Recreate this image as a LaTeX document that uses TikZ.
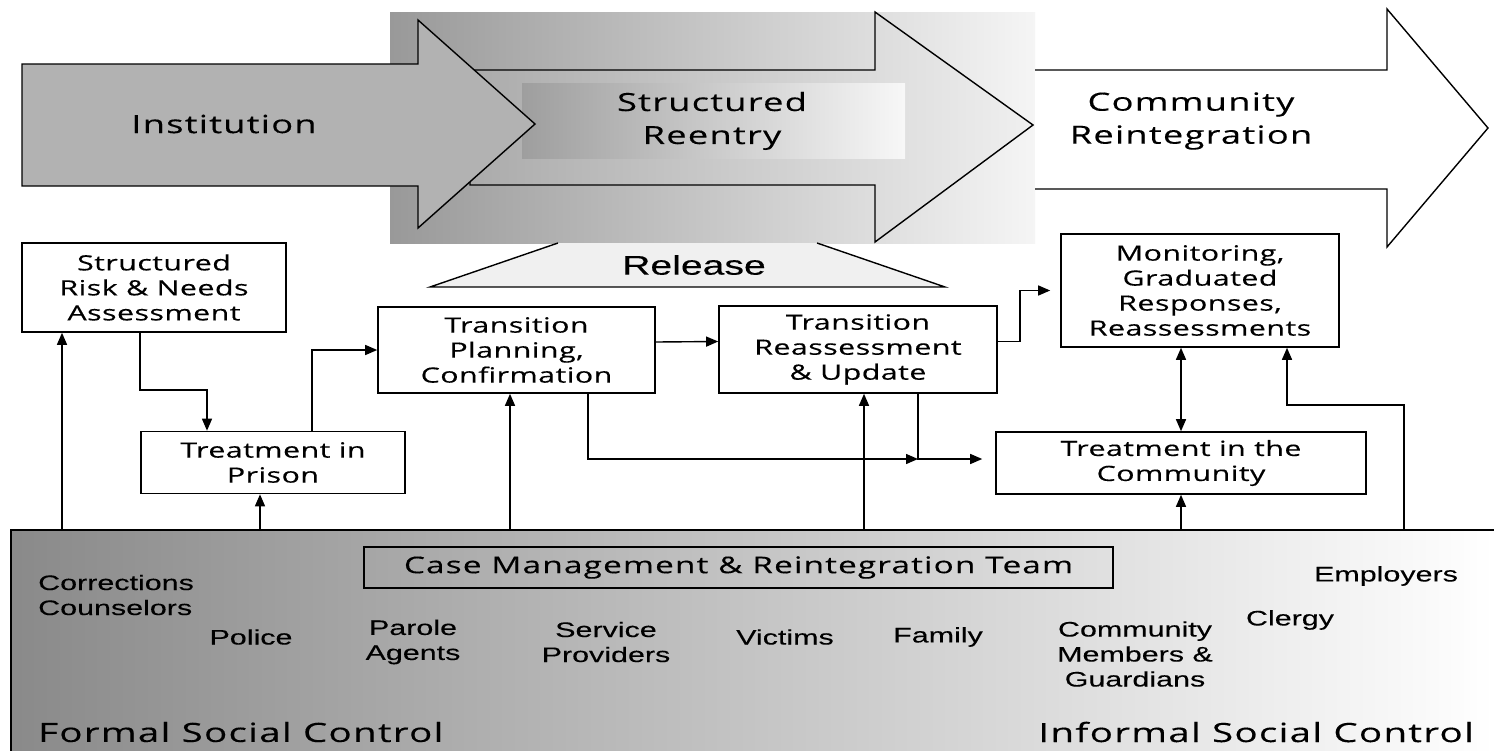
\documentclass[tikz,border=0pt]{standalone}
\usepackage{fontspec}
\setmainfont{Open Sans}
\newfontfamily\bxfont[FakeStretch=1.45,LetterSpace=2,FakeBold=0.3]{Open Sans}
\newfontfamily\bigfont[FakeStretch=1.45,LetterSpace=5,FakeBold=0.3]{Open Sans}
\newfontfamily\arial[FakeStretch=1.45,FakeBold=0.2]{Liberation Sans}
\usetikzlibrary{arrows.meta}
\begin{document}
\begin{tikzpicture}[x=1pt,y=-1pt,
  box/.style={draw, line width=1.6pt, fill=white, inner sep=0pt, align=center,
    font=\bxfont\fontsize{21}{25}\selectfont},
  arr/.style={line width=1.4pt, -{Triangle[length=12pt,width=10pt]}},
  darr/.style={line width=1.4pt, {Triangle[length=12pt,width=10pt]}-{Triangle[length=12pt,width=10pt]}},
  lbl/.style={font=\arial\fontsize{21}{25}\selectfont, align=center, inner sep=0pt},
  big/.style={font=\bigfont\fontsize{25}{33}\selectfont, align=center, inner sep=0pt},
  outline/.style={draw, line width=1.4pt, line join=miter}]
\useasboundingbox (0,0) rectangle (1494,750);
\fill[white] (0,0) rectangle (1494,750);

% background of structured reentry
\fill[left color=black!40, right color=black!4] (390,12) rectangle (1035,243);
% structured reentry arrow
\draw[outline, left color=black!33, right color=black!6]
  (470,70) -- (875,70) -- (875,12) -- (1033,125) -- (875,242) -- (875,185) -- (470,185) -- cycle;
\fill[left color=black!38, right color=black!3] (522,83) rectangle (905,158);
% institution arrow
\draw[outline, fill=black!30]
  (22,64) -- (418,64) -- (418,20) -- (535,124) -- (418,228) -- (418,186) -- (22,186) -- cycle;
% community reintegration arrow
\fill[white] (1035,70) -- (1387,70) -- (1387,9) -- (1488,128) -- (1387,247) -- (1387,189) -- (1035,189) -- cycle;
\draw[outline] (1035,70) -- (1387,70) -- (1387,9) -- (1488,128) -- (1387,247) -- (1387,189) -- (1035,189);

\node[big] (inst) at (224,124) {Institution};
\node[big] (sre) at (712,121) {Structured\\Reentry};
\node[big] (cre) at (1191,121) {Community\\Reintegration};

% release
\fill[black!6] (558,243) -- (430,287) -- (945,287) -- (817,243) -- cycle;
\draw[line width=1.4pt] (558,243) -- (430,287) -- (945,287) -- (817,243);
\node[font=\arial\fontsize{27}{30}\selectfont, inner sep=0pt] (rel) at (694,265) {Release};

% bottom panel
\node[draw, line width=1.6pt, left color=black!46, right color=white, minimum width=1484pt,
  minimum height=222pt, inner sep=0pt] (panel) at (753,641) {};
\node[draw, line width=1.6pt, minimum width=749pt, minimum height=41pt, inner sep=0pt,
  font=\bigfont\fontsize{23}{26}\selectfont] (cm) at (738.5,567.5) {Case Management \& Reintegration Team};

\node[lbl, align=left, anchor=west] (cc) at (38,595) {Corrections\\Counselors};
\node[lbl] (pol) at (251,637) {Police};
\node[lbl] (par) at (413,642) {Parole\\Agents};
\node[lbl] (ser) at (606,642) {Service\\Providers};
\node[lbl] (vic) at (785,637) {Victims};
\node[lbl] (fam) at (938,637) {Family};
\node[lbl] (com) at (1135,654) {Community\\Members \&\\Guardians};
\node[lbl] (cle) at (1290,620) {Clergy};
\node[lbl] (emp) at (1386,576) {Employers};
\node[big, font=\bigfont\fontsize{26.5}{30}\selectfont, anchor=west] (fsc) at (38,732) {Formal Social Control};
\node[big, font=\bigfont\fontsize{26.5}{30}\selectfont, anchor=east] (isc) at (1474,732) {Informal Social Control};

% boxes
\node[box, minimum width=264pt, minimum height=89pt] (risk) at (154,287.5) {Structured\\Risk \& Needs\\Assessment};
\node[box, minimum width=264pt, minimum height=62pt] (tpri) at (273,462.5) {Treatment in\\Prison};
\node[box, minimum width=277pt, minimum height=86pt] (tplan) at (516.5,350) {Transition\\Planning,\\Confirmation};
\node[box, minimum width=278pt, minimum height=87pt] (treas) at (858,349.5) {Transition\\Reassessment\\\& Update};
\node[box, minimum width=278pt, minimum height=113pt] (monit) at (1200,290.5) {Monitoring,\\Graduated\\Responses,\\Reassessments};
\node[box, minimum width=370pt, minimum height=62pt] (tcomm) at (1181,463) {Treatment in the\\Community};

% helper coordinates
\coordinate (x62) at (62,0);
\coordinate (x140) at (140,0);
\coordinate (x207) at (207,0);
\coordinate (x260) at (260,0);
\coordinate (x312) at (312,0);
\coordinate (x510) at (510,0);
\coordinate (x588) at (588,0);
\coordinate (x864) at (864,0);
\coordinate (x1181) at (1181,0);
\coordinate (x1287) at (1287,0);
\coordinate (x1404) at (1404,0);
\coordinate (j) at (918,459);
\coordinate (y405) at (0,405);

% connectors
\draw[arr] (x62 |- panel.north) -- (x62 |- risk.south);
\draw[arr] (risk.south -| x140) -- ++(0,57) -| (tpri.north -| x207);
\draw[arr] (x260 |- panel.north) -- (x260 |- tpri.south);
\draw[arr] (tpri.north -| x312) |- (tplan.west);
\draw[arr] ([yshift=8pt]tplan.east) -- ([yshift=8pt]treas.west);
\draw[arr] (x510 |- panel.north) -- (x510 |- tplan.south);
\draw[arr] (tplan.south -| x588) |- (j);
\draw[arr] (treas.south -| j) -- (j) -- ([xshift=-13pt]tcomm.west |- j);
\draw[arr] (x864 |- panel.north) -- (x864 |- treas.south);
\draw[arr] ([yshift=8pt]treas.east) -- ++(22,0) |- ([xshift=-10pt]monit.west);
\draw[darr] (monit.south -| x1181) -- (tcomm.north -| x1181);
\draw[arr] (x1181 |- panel.north) -- (x1181 |- tcomm.south);
\draw[arr] (x1404 |- panel.north) -- (x1404 |- y405) -| (monit.south -| x1287);
\end{tikzpicture}
\end{document}
